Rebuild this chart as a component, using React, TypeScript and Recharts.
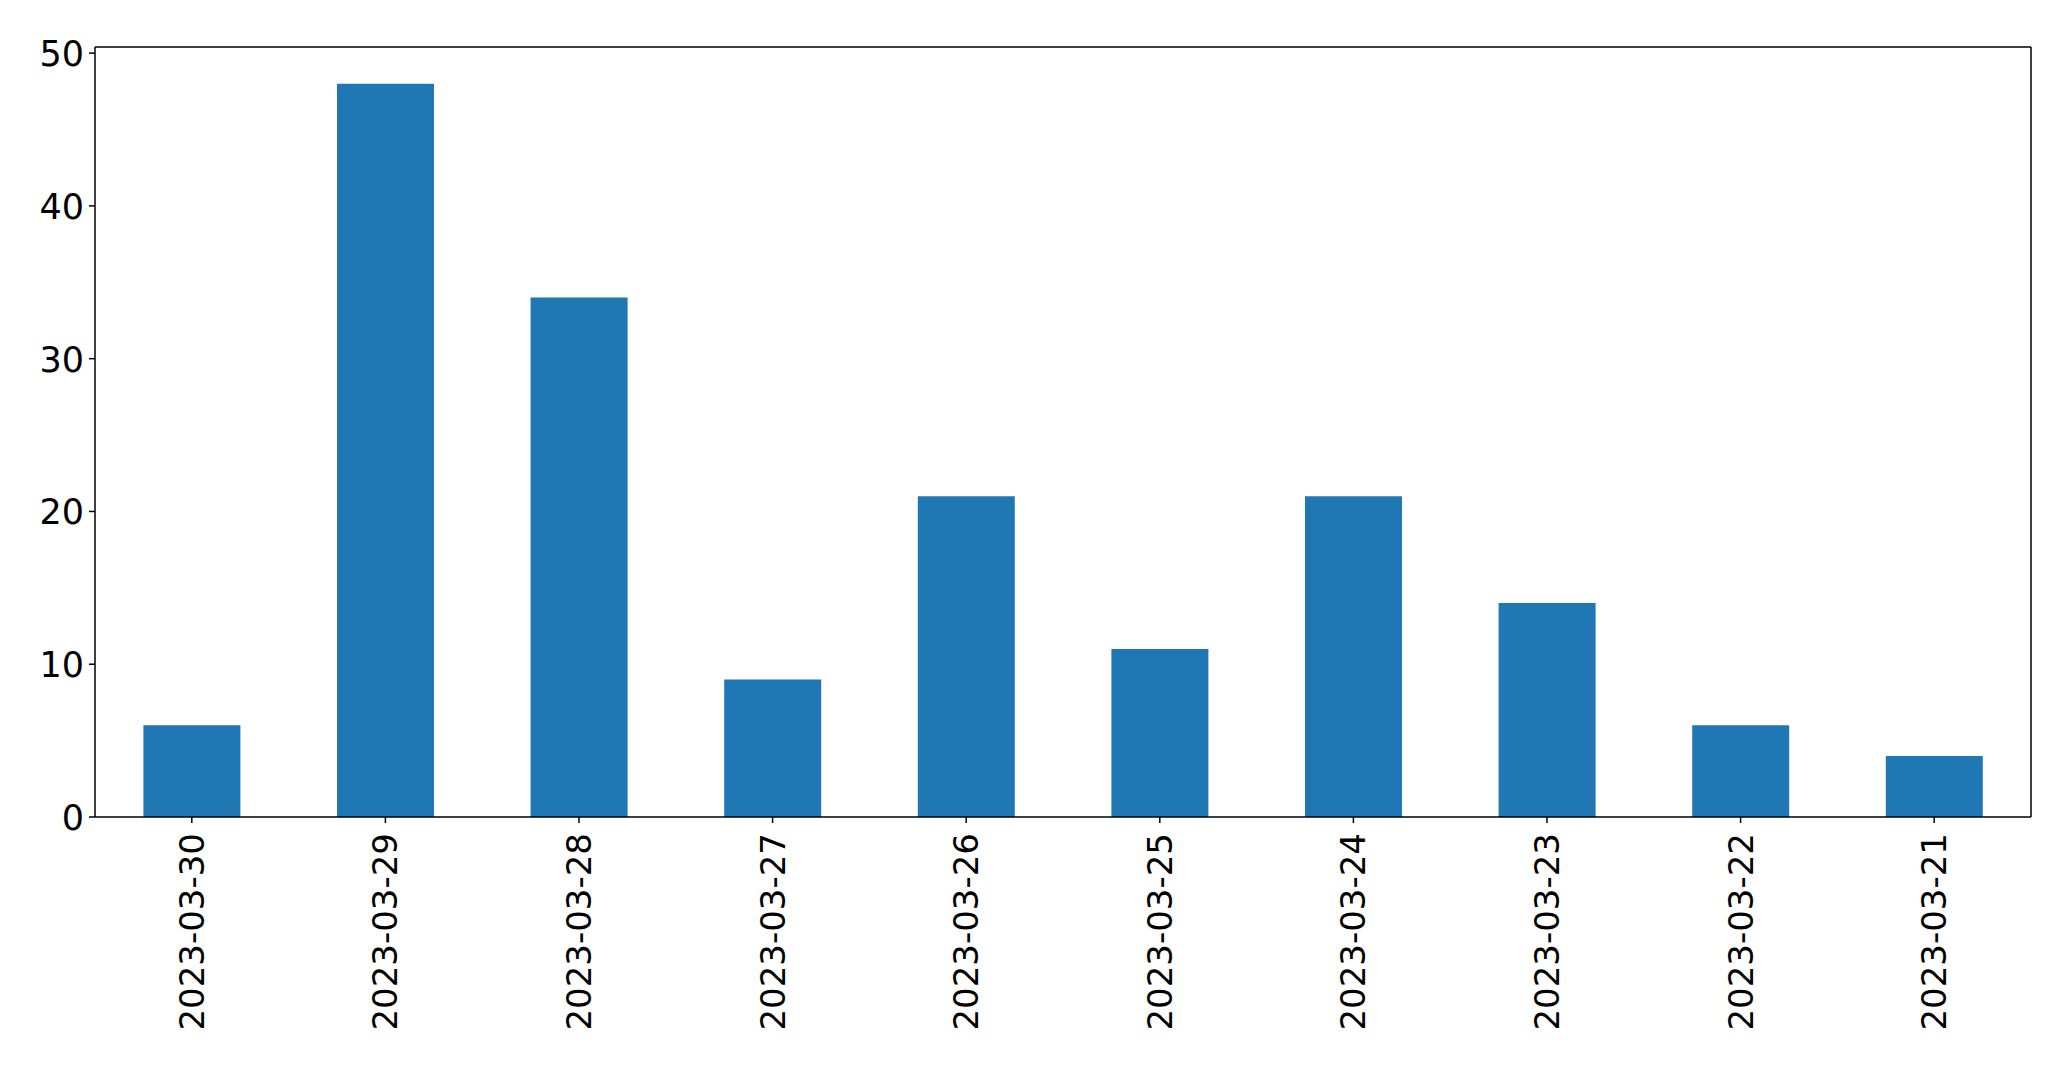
import React from "react"
import { Bar, BarChart, XAxis, YAxis } from "recharts"

const dates = [
  "2023-03-30",
  "2023-03-29",
  "2023-03-28",
  "2023-03-27",
  "2023-03-26",
  "2023-03-25",
  "2023-03-24",
  "2023-03-23",
  "2023-03-22",
  "2023-03-21",
]
const counts = [6, 48, 34, 9, 21, 11, 21, 14, 6, 4]
const yTicks = [0, 10, 20, 30, 40, 50]

const data = dates.map((date, i) => ({ date, count: counts[i] }))

const FONT = "'DejaVu Sans', sans-serif"

function DateTick(props: any) {
  const { x, y, payload } = props
  return (
    <text
      transform={`translate(${x},${y + 8}) rotate(-90)`}
      textAnchor="end"
      dominantBaseline="central"
      fontSize={34}
      fontFamily={FONT}
      fill="#000"
    >
      {payload.value}
    </text>
  )
}

function CountTick(props: any) {
  const { x, y, payload } = props
  return (
    <text
      x={x}
      y={y + 1}
      textAnchor="end"
      dominantBaseline="central"
      fontSize={35}
      fontFamily={FONT}
      fill="#000"
    >
      {payload.value}
    </text>
  )
}

const line = { stroke: "#000", strokeWidth: 1.5 }

export default function App() {
  return (
    <div style={{ position: "absolute", left: 0, top: 0, background: "#fff" }}>
      <BarChart
        width={2071}
        height={1069}
        data={data}
        margin={{ top: 46, right: 39, bottom: 0, left: 0 }}
        barCategoryGap="25%"
      >
        <XAxis
          dataKey="date"
          height={252}
          interval={0}
          tick={<DateTick />}
          tickSize={6}
          stroke="#000"
          axisLine={line}
          tickLine={line}
        />
        <XAxis
          xAxisId="top"
          dataKey="date"
          orientation="top"
          height={1}
          tick={false}
          tickLine={false}
          stroke="#000"
          axisLine={line}
        />
        <YAxis
          width={95}
          domain={[0, 50.4]}
          ticks={yTicks}
          tickSize={6}
          tickMargin={5}
          stroke="#000"
          axisLine={line}
          tickLine={line}
          tick={<CountTick />}
        />
        <YAxis
          yAxisId="right"
          orientation="right"
          width={1}
          domain={[0, 50.4]}
          tick={false}
          tickLine={false}
          stroke="#000"
          axisLine={line}
        />
        <Bar dataKey="count" fill="#1f77b4" isAnimationActive={false} />
      </BarChart>
    </div>
  )
}
